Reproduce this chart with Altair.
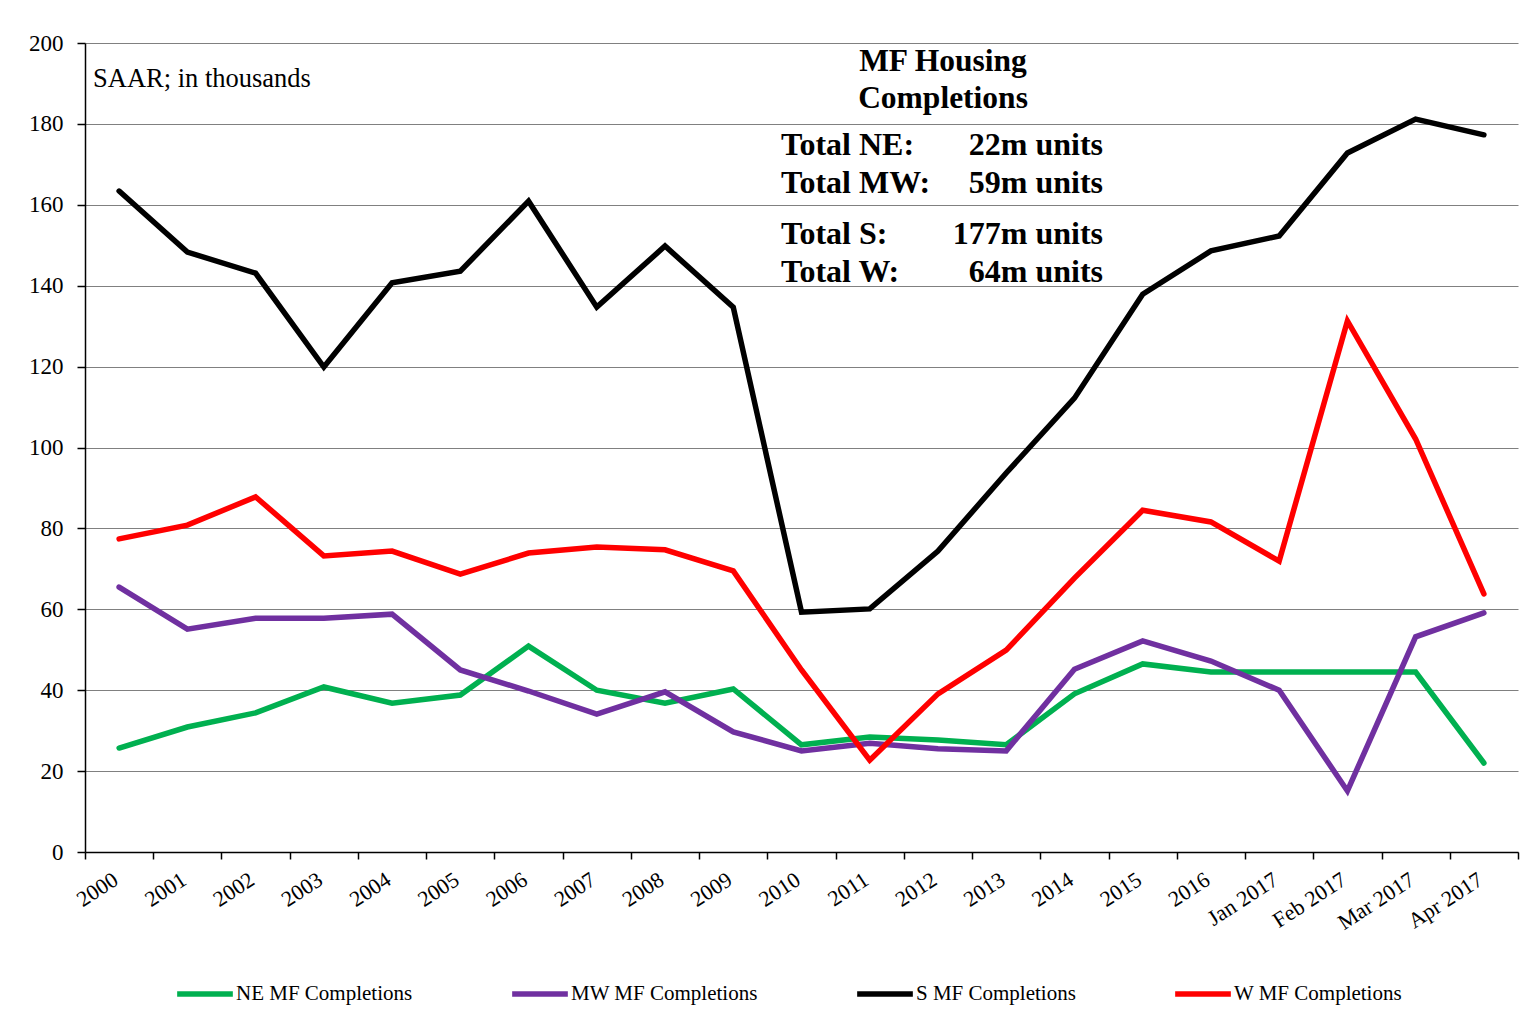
import altair as alt
import pandas as pd

categories = ["2000", "2001", "2002", "2003", "2004", "2005", "2006", "2007", "2008",
              "2009", "2010", "2011", "2012", "2013", "2014", "2015", "2016",
              "Jan 2017", "Feb 2017", "Mar 2017", "Apr 2017"]

series_names = ["NE MF Completions", "MW MF Completions", "S MF Completions", "W MF Completions"]
series_colors = ["#00B050", "#7030A0", "#000000", "#FF0000"]

ne = [25.7, 30.9, 34.4, 40.8, 36.8, 38.8, 50.9, 40.0, 36.8, 40.3, 26.5, 28.4, 27.7,
      26.5, 39.1, 46.5, 44.5, 44.5, 44.5, 44.5, 22.0]
mw = [65.5, 55.1, 57.8, 57.8, 58.8, 45.0, 39.8, 34.1, 39.6, 29.7, 25.0, 26.9, 25.5,
      25.0, 45.2, 52.2, 47.2, 40.0, 15.1, 53.2, 59.1]
s = [163.4, 148.3, 143.1, 119.9, 140.7, 143.6, 160.9, 134.7, 149.8, 134.7, 59.3, 60.1,
     74.4, 93.7, 112.2, 137.9, 148.6, 152.3, 172.8, 181.2, 177.3]
w = [77.4, 80.8, 87.8, 73.2, 74.4, 68.7, 73.9, 75.4, 74.7, 69.5, 45.0, 22.7, 39.1,
     49.9, 67.7, 84.5, 81.6, 71.9, 131.3, 102.1, 63.8]

note_text = "SAAR; in thousands"
title_lines = ["MF Housing", "Completions"]
total_labels = ["Total NE:", "Total MW:", "Total S:", "Total W:"]
total_values = ["22m units", "59m units", "177m units", "64m units"]

rows = []
for name, vals in zip(series_names, [ne, mw, s, w]):
    for c, v in zip(categories, vals):
        rows.append({"cat": c, "series": name, "value": v, "order": series_names.index(name)})
df = pd.DataFrame(rows)

FONT = "Liberation Serif"
W, H = 1433, 809

lines = alt.Chart(df).mark_line(strokeWidth=5.5, strokeCap="round").encode(
    x=alt.X("cat:N", sort=categories, bandPosition=0.5,
            scale=alt.Scale(type="band", paddingInner=0, paddingOuter=0),
            axis=alt.Axis(title=None, tickBand="extent", labelAngle=327,
                          labelAlign="right", labelBaseline="alphabetic", labelPadding=24,
                          labelFontSize=22, tickSize=7, grid=False)),
    y=alt.Y("value:Q", scale=alt.Scale(domain=[0, 200], nice=False),
            axis=alt.Axis(title=None, values=list(range(0, 201, 20)), tickSize=8,
                          labelFontSize=23, labelPadding=14, grid=True)),
    color=alt.Color("series:N", sort=series_names,
                    scale=alt.Scale(domain=series_names, range=series_colors),
                    legend=alt.Legend(title=None, orient="none", legendX=89, legendY=920,
                                      direction="horizontal", columns=4,
                                      symbolType="stroke", symbolSize=3100,
                                      symbolStrokeWidth=5.5, labelFontSize=21,
                                      labelLimit=0, labelOffset=0, columnPadding=88,
                                      labelFont=FONT, labelColor="black")),
    order=alt.Order("order:Q"),
)


def txt(t, x, y, size, bold=False, align="left"):
    return alt.Chart(pd.DataFrame({"t": [t]})).mark_text(
        font=FONT, fontSize=size, fontWeight="bold" if bold else "normal",
        align=align, baseline="middle", color="black"
    ).encode(text="t:N", x=alt.value(x), y=alt.value(y))


layers = [lines, txt(note_text, 8, 36, 26.5)]
layers.append(txt(title_lines[0], 858, 19, 31.5, True, "center"))
layers.append(txt(title_lines[1], 858, 56, 31.5, True, "center"))
ys = [102, 140, 191, 229]
for lab, val, yy in zip(total_labels, total_values, ys):
    layers.append(txt(lab, 696, yy, 32, True, "left"))
    layers.append(txt(val, 1018, yy, 32, True, "right"))

chart = alt.layer(*layers).properties(
    width=W, height=H,
    autosize=alt.AutoSizeParams(type="none"),
    padding={"left": 77, "top": 35, "right": 8, "bottom": 160},
    background="white",
).configure_view(stroke=None).configure_axis(
    labelFont=FONT, labelColor="black", tickColor="black", domainColor="black",
    domainWidth=1.5, tickWidth=1.5, gridColor="#808080", gridWidth=1.2,
)

chart.save("out.html", embed_options={"renderer": "svg", "actions": False})
